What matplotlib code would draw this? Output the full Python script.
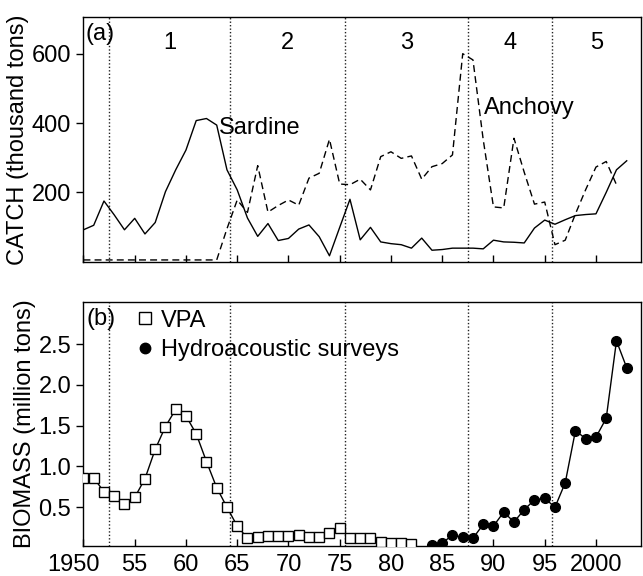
import matplotlib.pyplot as plt
from matplotlib.lines import Line2D
from matplotlib.transforms import ScaledTranslation
import numpy as np

plt.rcParams['font.family'] = ['Liberation Sans', 'DejaVu Sans']
plt.rcParams['font.size'] = 17

# catch data (thousand tons)
catch_years = np.arange(1950, 2004)
sardine = [92, 105, 175, 135, 92, 125, 80, 113, 202, 265,
           322, 407, 413, 394, 265, 207, 126, 73, 110, 61,
           67, 94, 106, 72, 17, 99, 180, 63, 99, 57,
           52, 49, 39, 68, 33, 35, 39, 39, 39, 37,
           62, 57, 56, 54, 97, 120, 108, 121, 133, 136,
           138, 200, 265, 291]
anchovy_years = np.arange(1950, 2003)
anchovy = [5, 5, 5, 5, 5, 5, 5, 5, 5, 5,
           5, 5, 5, 5, 95, 178, 142, 277, 143, 162,
           178, 163, 241, 255, 353, 224, 222, 238, 207, 303,
           317, 298, 305, 238, 274, 283, 308, 600, 582, 352,
           158, 155, 356, 258, 166, 172, 49, 62, 138, 208,
           273, 289, 222]

# biomass (million tons)
vpa_years = np.arange(1950, 1983)
vpa = [0.86, 0.86, 0.69, 0.64, 0.54, 0.62, 0.85, 1.21, 1.49, 1.70,
       1.62, 1.40, 1.06, 0.74, 0.50, 0.27, 0.12, 0.14, 0.15, 0.15,
       0.15, 0.16, 0.14, 0.14, 0.19, 0.25, 0.12, 0.12, 0.12, 0.08,
       0.06, 0.06, 0.05]
hydro_years = np.arange(1984, 2004)
hydro = [0.035, 0.06, 0.16, 0.13, 0.12, 0.29, 0.27, 0.44, 0.32, 0.47,
         0.59, 0.61, 0.50, 0.80, 1.44, 1.34, 1.36, 1.59, 2.54, 2.21]

period_bounds = [1952.5, 1964.3, 1975.5, 1987.5, 1995.7]
period_labels = ['1', '2', '3', '4', '5']
period_x = [1958.4, 1969.9, 1981.5, 1991.6, 2000.1]

xticks = np.arange(1950, 2001, 5)
xticklabels = ['1950', '55', '60', '65', '70', '75', '80', '85', '90', '95', '2000']

fig = plt.figure(figsize=(6.43, 5.76), dpi=100)
ax1 = fig.add_axes([0.129, 0.5457, 0.868, 0.4243])
ax2 = fig.add_axes([0.129, 0.0521, 0.868, 0.4241])

for ax in (ax1, ax2):
    for b in period_bounds:
        ax.axvline(b, color='#222222', lw=1.0, linestyle=(0, (1, 1.5)), zorder=1)
    ax.set_xlim(1949.95, 2004.4)
    ax.set_xticks(xticks)
    ax.tick_params(axis='x', direction='in', length=5, width=1)
    ax.tick_params(axis='y', direction='out', length=5, width=1)
    for s in ax.spines.values():
        s.set_linewidth(1.0)

# (a) catch
ax1.plot(catch_years, sardine, color='black', lw=1.0, zorder=3)
ax1.plot(anchovy_years, anchovy, color='black', lw=1.0, dashes=(5, 3), zorder=3)
ax1.set_ylim(0, 705)
ax1.set_yticks([200, 400, 600])
ax1.set_xticklabels([])
ax1.set_ylabel('CATCH (thousand tons)', labelpad=2)
ax1.text(0.004, 0.975, '(a)', transform=ax1.transAxes, ha='left', va='top')
for px, lab in zip(period_x, period_labels):
    ax1.text(px, 630, lab, ha='center', va='center')
ax1.text(1963.2, 386, 'Sardine', ha='left', va='center')
ax1.text(1989.1, 443, 'Anchovy', ha='left', va='center')

# (b) biomass
ax2.plot(vpa_years, vpa, color='black', lw=1.0, marker='s', ms=7.5,
         mfc='white', mec='black', mew=1.0, zorder=3)
ax2.plot(hydro_years, hydro, color='black', lw=1.0, marker='o', ms=7,
         mfc='black', mec='black', zorder=3)
ax2.set_ylim(0.025, 3.02)
ax2.set_yticks([0.5, 1.0, 1.5, 2.0, 2.5])
ax2.set_yticklabels(['0.5', '1.0', '1.5', '2.0', '2.5'])
ax2.set_xticklabels(xticklabels)
ax2.tick_params(axis='x', pad=6)
ax2.set_ylabel('BIOMASS (million tons)', labelpad=2)
ax2.text(0.006, 0.975, '(b)', transform=ax2.transAxes, ha='left', va='top')

# nudge "1950" left so it clears the axis corner
first = ax2.xaxis.get_major_ticks()[0].label1
first.set_transform(first.get_transform() + ScaledTranslation(-0.10, 0, fig.dpi_scale_trans))

handles = [Line2D([], [], linestyle='none', marker='s', ms=8.5, mfc='white', mec='black'),
           Line2D([], [], linestyle='none', marker='o', ms=7.5, mfc='black', mec='black')]
ax2.legend(handles, ['VPA', 'Hydroacoustic surveys'], loc='upper left',
           bbox_to_anchor=(0.065, 1.035), frameon=False, handlelength=0.8,
           handletextpad=0.25, labelspacing=0.3, borderpad=0.2)

fig.savefig('out.png', dpi=100)
